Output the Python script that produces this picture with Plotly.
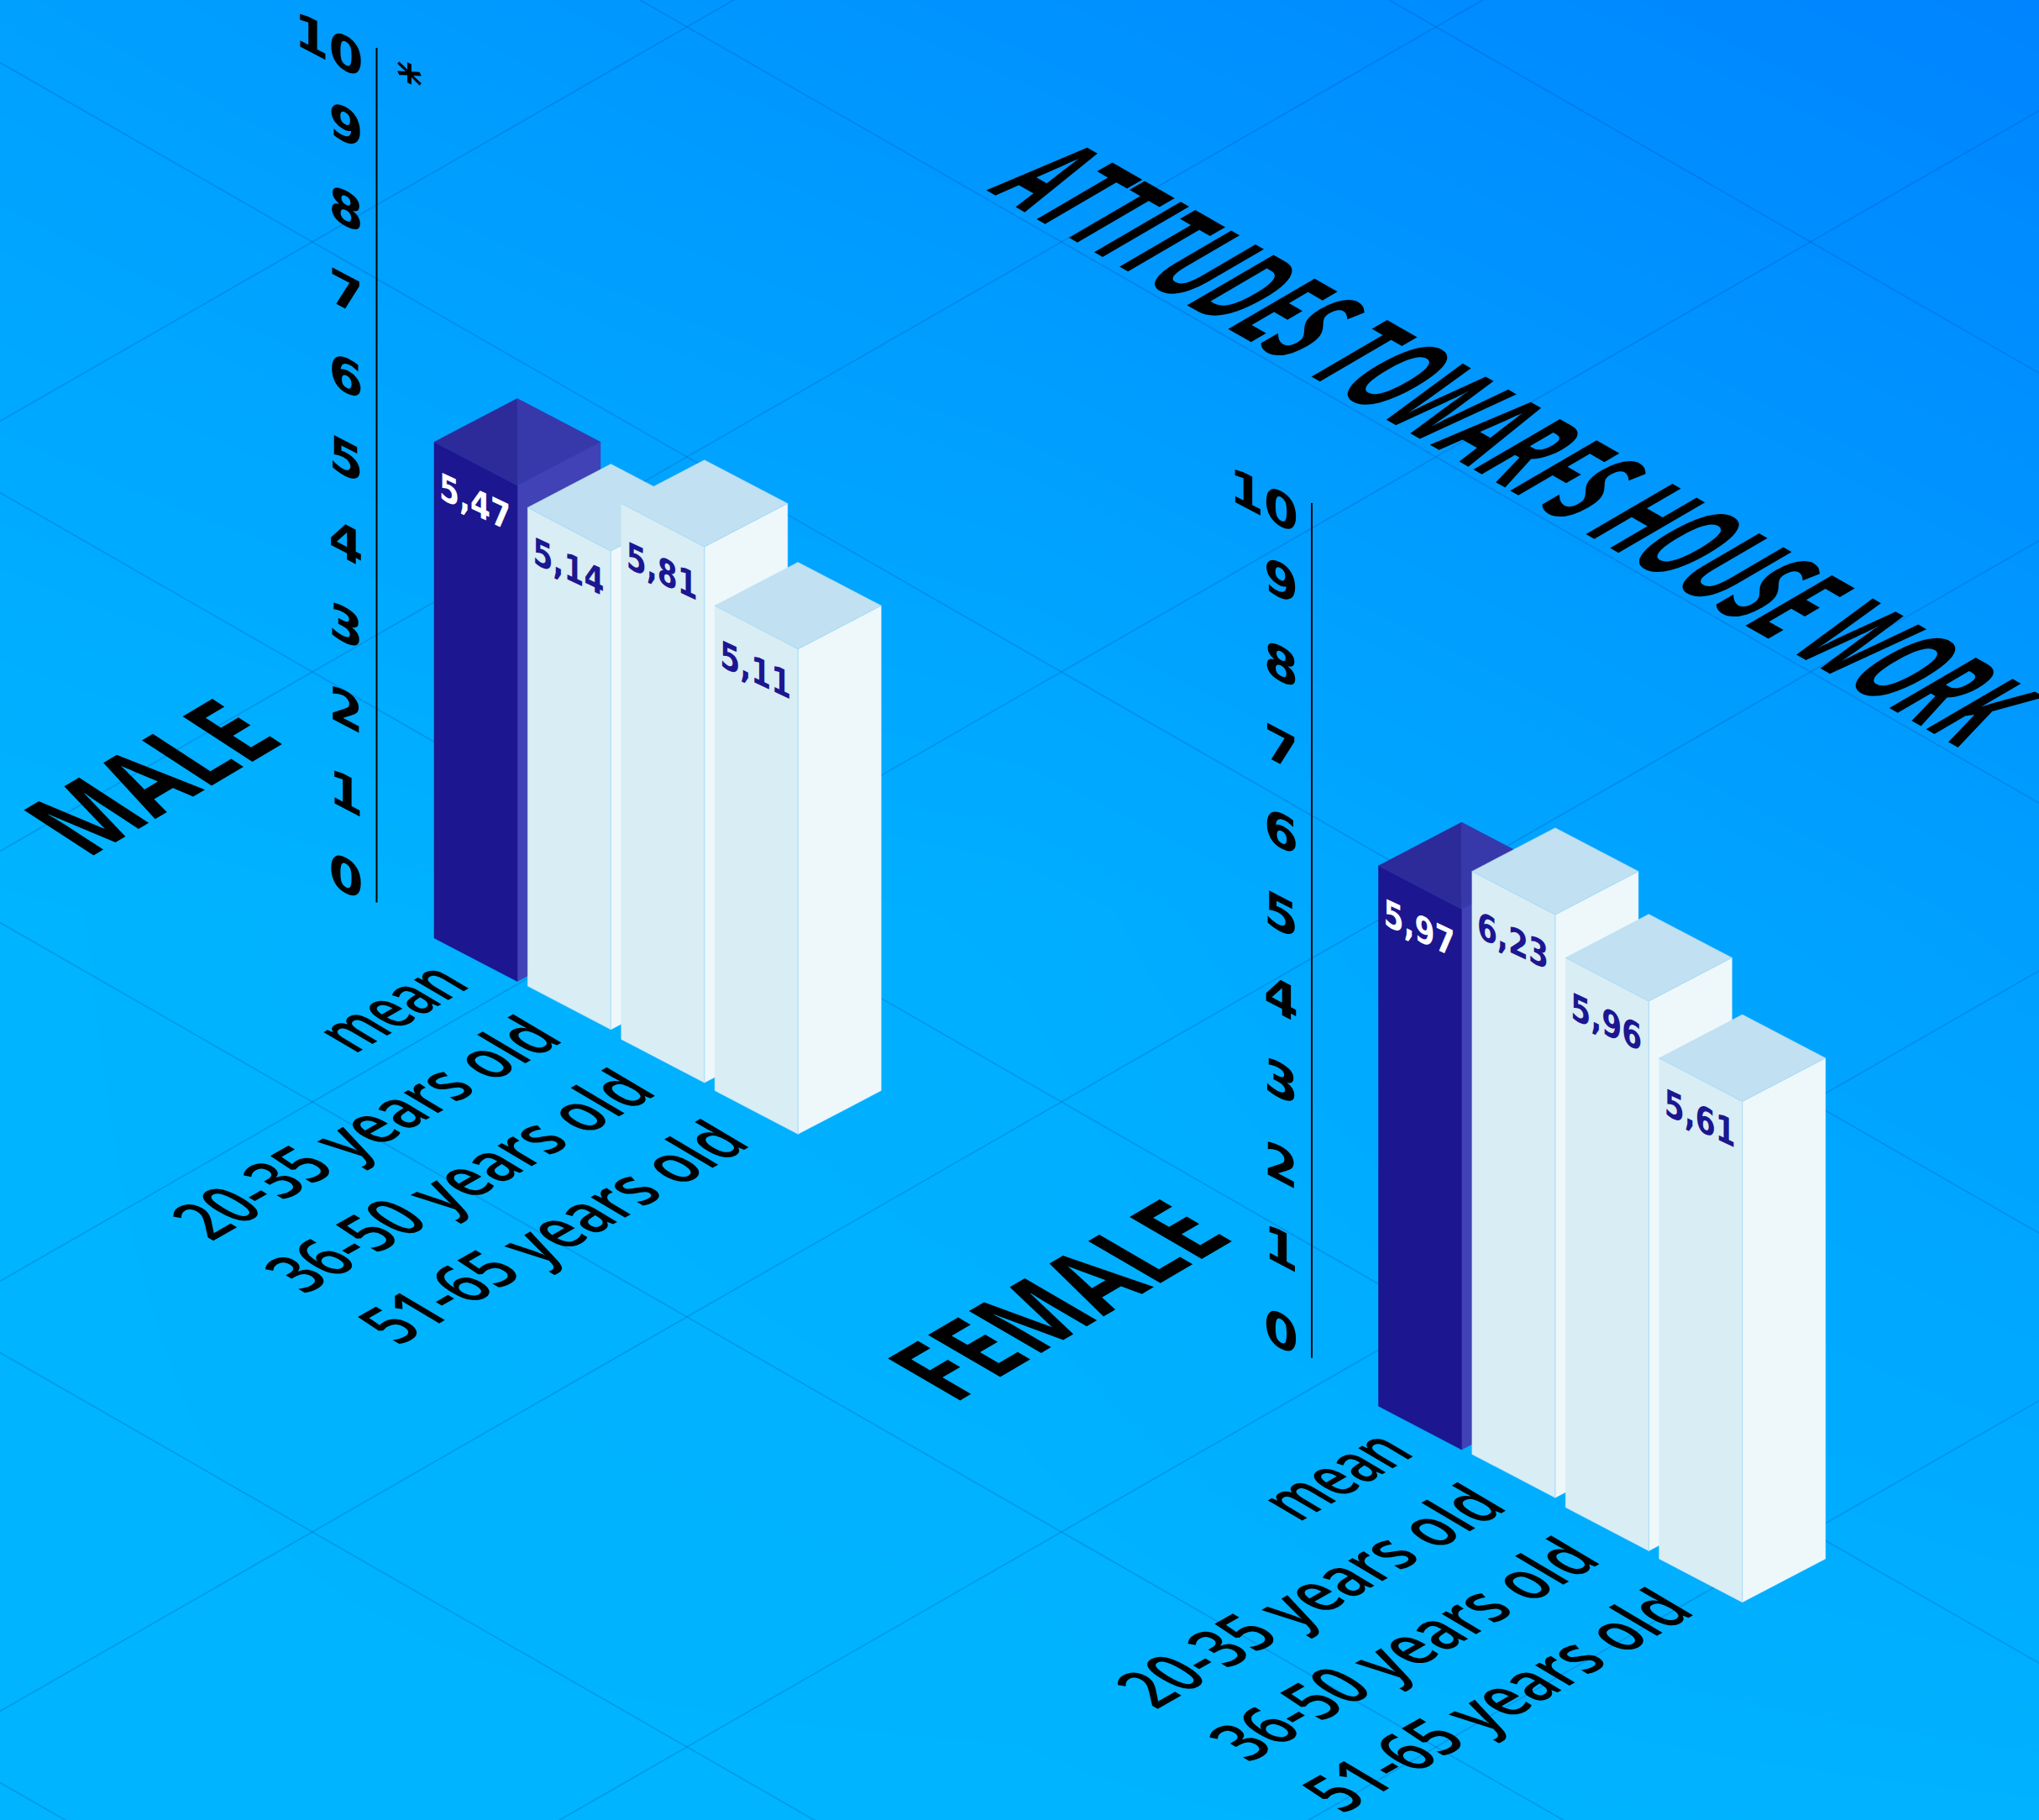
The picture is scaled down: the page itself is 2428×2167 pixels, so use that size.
import json
import plotly.graph_objects as go

# ---------- data ----------
categories = ["mean", "20-35 years old", "36-50 years old", "51-65 years old"]
male_labels = [5.47, 5.14, 5.81, 5.11]
female_labels = [5.97, 6.23, 5.96, 5.61]
# bar heights as drawn in the reference (they are not exactly proportional to the printed value)
male_drawn = [5.37, 5.18, 5.80, 5.25]
female_drawn = [5.85, 6.31, 5.95, 5.42]
tick_values = [0, 1, 2, 3, 4, 5, 6, 7, 8, 9, 10]
title_text = "ATTITUDES TOWARFS HOUSE WORK"

# ---------- page projection ----------
W, H = 2428, 2167
UNIT = 110.0
HALF_X, HALF_Y = 99.0, 51.7
STEP_X = 111.4
STEP_Y = [0, 57.2, 120.5, 181.7]
PANELS = [
    dict(name="MALE", labels=male_labels, drawn=male_drawn, base=(616.0, 1168.6),
         axis=(448.5, 57.0, 1074.5), drops=[67, 66, 76, 72],
         head=dict(p0=(103.7, 1023), p1=(341, 883), up=(-83, -54))),
    dict(name="FEMALE", labels=female_labels, drawn=female_drawn, base=(1740.5, 1726.0),
         axis=(1562.0, 599.0, 1616.8), drops=[70, 78, 72, 67],
         head=dict(p0=(1135.5, 1672), p1=(1472, 1475), up=(-86, -50))),
]
BG_LEVELS = [[160, 146, 132], [180, 174, 158], [180, 180, 178]]
GRID = dict(slope=0.574, c_up=1013.5, c_down=-437.5, spacing=512.0)

FS = {"dejavu": 40, "open": 60}
CAP = {"dejavu": 0.729, "open": 0.714}

fig = go.Figure()
# background gradient
fig.add_trace(go.Heatmap(
    x=[0, W / 2, W], y=[0, H / 2, H], z=BG_LEVELS, zmin=128, zmax=180, zsmooth="best",
    colorscale=[[0, "rgb(0,128,255)"], [1, "rgb(0,180,255)"]], showscale=False, hoverinfo="skip"))

# isometric floor grid
gx, gy = [], []
for k in range(-6, 12):
    for sign, c0 in ((1, GRID["c_down"]), (-1, GRID["c_up"])):
        c = c0 + k * GRID["spacing"]
        gx += [0, W, None]
        gy += [c, c + sign * GRID["slope"] * W, None]
fig.add_trace(go.Scatter(x=gx, y=gy, mode="lines", line=dict(color="rgba(0,70,165,0.24)", width=1.6),
                         hoverinfo="skip", showlegend=False))


def face(pts, color, name):
    xs = [p[0] for p in pts] + [pts[0][0]]
    ys = [p[1] for p in pts] + [pts[0][1]]
    fig.add_trace(go.Scatter(x=xs, y=ys, mode="lines", fill="toself", fillcolor=color,
                             line=dict(width=0.5, color=color), hoverinfo="skip",
                             showlegend=False, name=name))


def edges(paths, color):
    xs, ys = [], []
    for path in paths:
        xs += [p[0] for p in path] + [None]
        ys += [p[1] for p in path] + [None]
    fig.add_trace(go.Scatter(x=xs, y=ys, mode="lines", line=dict(width=1, color=color),
                             hoverinfo="skip", showlegend=False))


notes = []
specs = []


def text(label, p0, p1, up, family, weight, color, key):
    notes.append(dict(x=p0[0], y=p0[1], text=label, showarrow=False, xref="x", yref="y",
                      font=dict(family=family, size=FS[key], color=color, weight=weight)))
    specs.append(dict(p0=p0, p1=p1, up=up, capPx=CAP[key] * FS[key]))


DEJAVU = "DejaVu Sans"
OPEN = "Open Sans"

for panel in PANELS:
    bx, by = panel["base"]
    ax, atop, abot = panel["axis"]
    fig.add_trace(go.Scatter(x=[ax, ax], y=[atop, abot], mode="lines",
                             line=dict(color="#000", width=2), hoverinfo="skip", showlegend=False))
    for i, (cat, lab, drawn, drop) in enumerate(zip(categories, panel["labels"], panel["drawn"], panel["drops"])):
        fx, fy = bx + i * STEP_X, by + STEP_Y[i]
        tfy = fy - drawn * UNIT
        F = (fx, fy)
        T = (fx, tfy)
        L = (fx - HALF_X, tfy - HALF_Y)
        R = (fx + HALF_X, tfy - HALF_Y)
        B = (fx, tfy - 2 * HALF_Y)
        LB = (fx - HALF_X, fy - HALF_Y)
        RB = (fx + HALF_X, fy - HALF_Y)
        if i == 0:
            face([R, T, F, RB], "#4042b5", f"{panel['name']} {cat} right")
            face([L, T, F, LB], "#1c1690", f"{panel['name']} {cat} left")
            face([L, B, T], "#2d2b9a", f"{panel['name']} {cat} top")
            face([B, R, T], "#3738aa", f"{panel['name']} {cat} top")
            tc = "#ffffff"
        else:
            face([R, T, F, RB], "#eef8fb", f"{panel['name']} {cat} right")
            face([L, T, F, LB], "#d9edf5", f"{panel['name']} {cat} left")
            face([L, B, R, T], "#c1e0f1", f"{panel['name']} {cat} top")
            edges([[L, T, R], [T, F]], "#a9dcf7")
            tc = "#1c1690"
        # value label on left face
        p0 = (L[0] + 6, L[1] + drop)
        p1 = (p0[0] + 85, p0[1] + 40)
        text(f"{lab:.2f}".replace(".", ","), p0, p1, (0, -32), DEJAVU, 700, tc, "dejavu")
        # category label on the floor
        end = (fx - 54, fy + (6 if i == 0 else 13))
        run = (140, -81) if i == 0 else (422, -240)
        text(cat, (end[0] - run[0], end[1] - run[1]), end, (-54, -32), OPEN, 600, "#000", "open")
    # axis tick labels
    cx = ax - 36.5
    for v in tick_values:
        cy = abot - 31.5 - 99.3 * v
        base_y = cy + 20
        if v == 10:
            p1 = (cx + 20.5, base_y + 14 + 10.7)
            p0 = (p1[0] - 82, p1[1] - 42.6)
        else:
            p1 = (cx + 20.5, base_y + 10.7)
            p0 = (cx - 20.5, base_y - 10.7)
        text(str(v), p0, p1, (0, -41), DEJAVU, 700, "#000", "dejavu")
    h = panel["head"]
    text(panel["name"], h["p0"], h["p1"], h["up"], OPEN, 700, "#000", "open")

text("*", (472, 106), (503, 122), (0, -38), DEJAVU, 700, "#000", "dejavu")
text(title_text, (1174.5, 226.5), (2331.7, 890), (103, -60), OPEN, 700, "#000", "open")

fig.update_layout(
    width=W, height=H, margin=dict(l=0, r=0, t=0, b=0), autosize=False,
    paper_bgcolor="#00b4ff", plot_bgcolor="#00b4ff", showlegend=False,
    xaxis=dict(range=[0, W], visible=False, fixedrange=True),
    yaxis=dict(range=[H, 0], visible=False, fixedrange=True),
    annotations=notes,
)

post = """
document.documentElement.style.margin='0';document.body.style.margin='0';document.body.style.overflow='hidden';
var specs=%s;
var anns=document.querySelectorAll('.annotation');
anns.forEach(function(a,i){
  var s=specs[i]; if(!s) return;
  var t=a.querySelector('text');
  var n=t.parentNode;
  while(n && n!==a.parentNode){ if(n.removeAttribute) n.removeAttribute('transform'); n=n.parentNode; }
  t.removeAttribute('transform');
  t.setAttribute('x',0); t.setAttribute('y',0); t.setAttribute('text-anchor','start');
  var r=a.querySelector('rect'); if(r) r.style.display='none';
  var L=t.getComputedTextLength();
  var A=(s.p1[0]-s.p0[0])/L, B=(s.p1[1]-s.p0[1])/L;
  var C=-s.up[0]/s.capPx, D=-s.up[1]/s.capPx;
  t.setAttribute('transform','matrix('+[A,B,C,D,s.p0[0],s.p0[1]].join(' ')+')');
});
""" % json.dumps(specs)

fig.write_html("out.html", config={"staticPlot": True, "responsive": False}, post_script=post)
